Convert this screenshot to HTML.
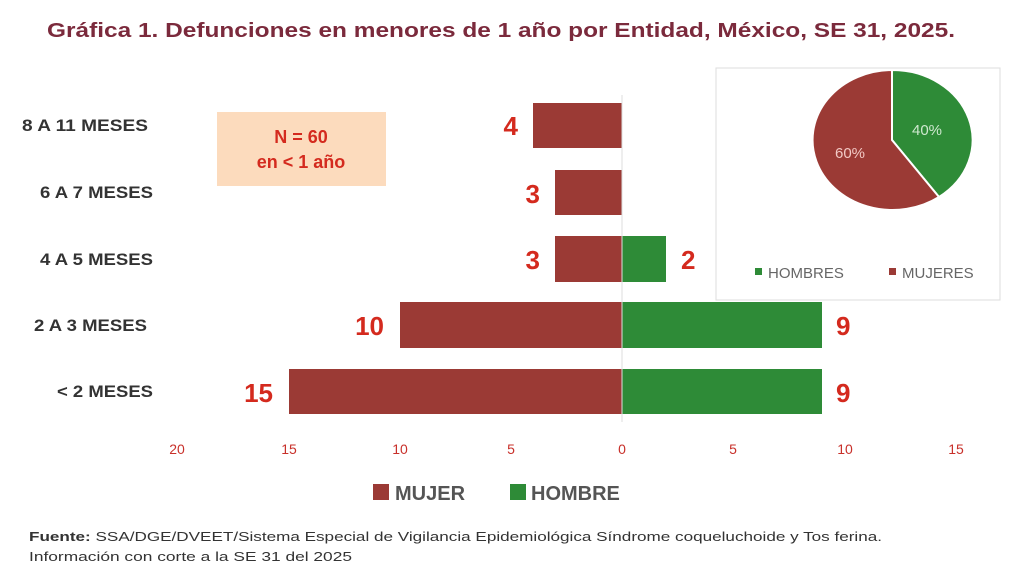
<!DOCTYPE html>
<html><head><meta charset="utf-8"><style>
body{margin:0;width:1024px;height:576px;background:#fff;overflow:hidden;font-family:"Liberation Sans",sans-serif}
</style></head><body>
<svg width="1024" height="576" xmlns="http://www.w3.org/2000/svg" font-family="Liberation Sans, sans-serif">
<text x="47" y="37" font-size="20" font-weight="bold" fill="#7b2a3c" textLength="908" lengthAdjust="spacingAndGlyphs">Gráfica 1. Defunciones en menores de 1 año por Entidad, México, SE 31, 2025.</text>
<rect x="217" y="112" width="169" height="74" fill="#fcdbbd"/>
<text x="301" y="143" font-size="18" font-weight="bold" fill="#d42a1e" text-anchor="middle">N = 60</text>
<text x="301" y="168" font-size="18" font-weight="bold" fill="#d42a1e" text-anchor="middle">en &lt; 1 año</text>
<g font-size="17" font-weight="bold" fill="#333" lengthAdjust="spacingAndGlyphs">
<text x="22" y="131" textLength="126" lengthAdjust="spacingAndGlyphs">8 A 11 MESES</text>
<text x="40" y="198" textLength="113" lengthAdjust="spacingAndGlyphs">6 A 7 MESES</text>
<text x="40" y="265" textLength="113" lengthAdjust="spacingAndGlyphs">4 A 5 MESES</text>
<text x="34" y="331" textLength="113" lengthAdjust="spacingAndGlyphs">2 A 3 MESES</text>
<text x="57" y="397" textLength="96" lengthAdjust="spacingAndGlyphs">&lt; 2 MESES</text>
</g>
<g fill="#9b3a35">
<rect x="533" y="103" width="89" height="45"/>
<rect x="555" y="170" width="67" height="45"/>
<rect x="555" y="236" width="67" height="46"/>
<rect x="400" y="302" width="222" height="46"/>
<rect x="289" y="369" width="333" height="45"/>
</g>
<g fill="#2e8b37">
<rect x="622" y="236" width="44" height="46"/>
<rect x="622" y="302" width="200" height="46"/>
<rect x="622" y="369" width="200" height="45"/>
</g>
<line x1="622" y1="95" x2="622" y2="422" stroke="#ddd" stroke-width="1"/>
<g font-size="26" font-weight="bold" fill="#d42a1e">
<text x="518" y="135" text-anchor="end">4</text>
<text x="540" y="203" text-anchor="end">3</text>
<text x="540" y="269" text-anchor="end">3</text>
<text x="384" y="335" text-anchor="end">10</text>
<text x="273" y="402" text-anchor="end">15</text>
<text x="681" y="269">2</text>
<text x="836" y="335">9</text>
<text x="836" y="402">9</text>
</g>
<g font-size="14" fill="#c8302a" text-anchor="middle">
<text x="177" y="454">20</text><text x="289" y="454">15</text><text x="400" y="454">10</text><text x="511" y="454">5</text><text x="622" y="454">0</text><text x="733" y="454">5</text><text x="845" y="454">10</text><text x="956" y="454">15</text>
</g>
<rect x="716" y="68" width="284" height="232" fill="#fff" stroke="#ddd"/>
<path d="M892 140 L892 70 A80 70 0 0 1 939 197 Z" fill="#2e8b37" stroke="#fff" stroke-width="2"/>
<path d="M892 140 L939 197 A80 70 0 1 1 892 70 Z" fill="#9b3a35" stroke="#fff" stroke-width="2"/>
<text x="927" y="135" font-size="15" fill="#cfe8cf" text-anchor="middle">40%</text>
<text x="850" y="158" font-size="15" fill="#f2c9c5" text-anchor="middle">60%</text>
<rect x="755" y="268" width="7" height="7" fill="#2e8b37"/>
<text x="768" y="278" font-size="15" fill="#666">HOMBRES</text>
<rect x="889" y="268" width="7" height="7" fill="#9b3a35"/>
<text x="902" y="278" font-size="15" fill="#666">MUJERES</text>
<rect x="373" y="484" width="16" height="16" fill="#9b3a35"/>
<text x="395" y="500" font-size="20" font-weight="bold" fill="#555">MUJER</text>
<rect x="510" y="484" width="16" height="16" fill="#2e8b37"/>
<text x="531" y="500" font-size="20" font-weight="bold" fill="#555">HOMBRE</text>
<text x="29" y="541" font-size="13" fill="#333" textLength="853" lengthAdjust="spacingAndGlyphs"><tspan font-weight="bold">Fuente:</tspan> SSA/DGE/DVEET/Sistema Especial de Vigilancia Epidemiológica Síndrome coqueluchoide y Tos ferina.</text>
<text x="29" y="561" font-size="13" fill="#333" textLength="323" lengthAdjust="spacingAndGlyphs">Información con corte a la SE 31 del 2025</text>
</svg>
</body></html>
